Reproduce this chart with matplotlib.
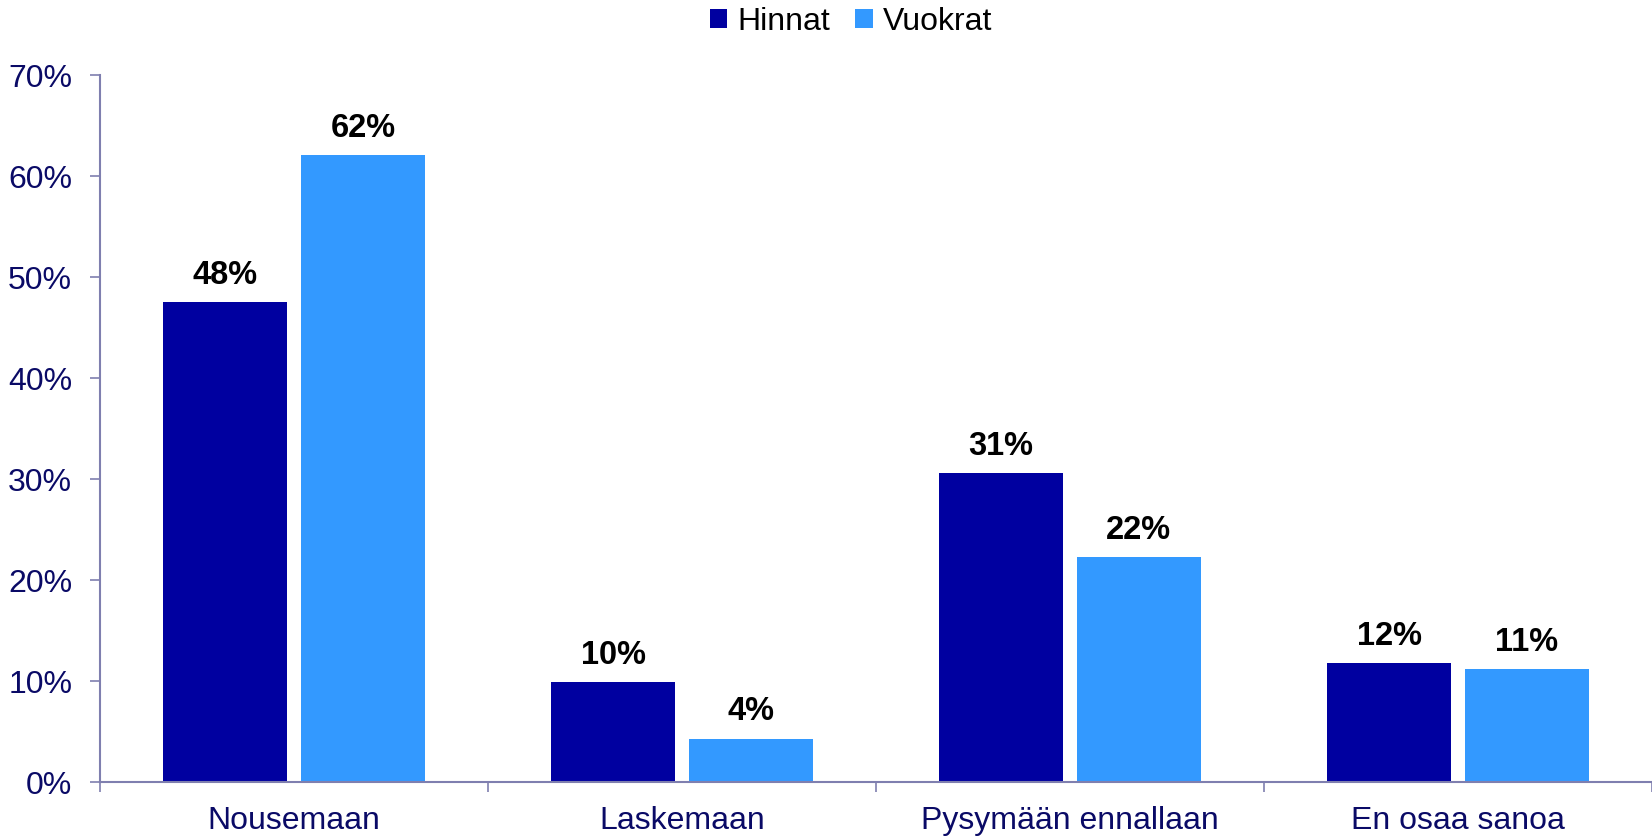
import matplotlib
matplotlib.use("Agg")
import matplotlib.pyplot as plt
import numpy as np

plt.rcParams['font.family'] = ['Liberation Sans', 'DejaVu Sans']

categories = ["Nousemaan", "Laskemaan", "Pysymään ennallaan", "En osaa sanoa"]
hinnat = [47.5, 9.9, 30.6, 11.8]
vuokrat = [62.1, 4.3, 22.3, 11.2]
hinnat_labels = ["48%", "10%", "31%", "12%"]
vuokrat_labels = ["62%", "4%", "22%", "11%"]
y_ticks = [0, 10, 20, 30, 40, 50, 60, 70]

navy = "#0A0A66"
axis_col = "#7F7FAF"

fig = plt.figure(figsize=(16.52, 8.38), dpi=100)
ax = fig.add_axes([0.0605, 0.0668, 0.9395, 0.8437])

x = np.arange(len(categories))
w = 0.32
off = 0.1775
b1 = ax.bar(x - off, hinnat, w, color="#0000A0", label="Hinnat")
b2 = ax.bar(x + off, vuokrat, w, color="#3399FF", label="Vuokrat")

for bars, labs in ((b1, hinnat_labels), (b2, vuokrat_labels)):
    for b, lab in zip(bars, labs):
        ax.annotate(lab, (b.get_x() + b.get_width() / 2, b.get_height()),
                    xytext=(0, 8), textcoords="offset points",
                    ha="center", va="bottom", fontsize=23.5, fontweight="bold", color="black")

ax.set_xlim(-0.5, 3.5)
ax.set_ylim(0, 70)
ax.set_yticks(y_ticks)
ax.set_yticklabels([f"{v}%" for v in y_ticks])
ax.set_xticks(x)
ax.set_xticklabels(categories)
ax.set_xticks(np.arange(-0.5, 3.6, 1.0), minor=True)

ax.tick_params(axis="y", colors=axis_col, labelcolor=navy, labelsize=23, length=7, width=1.2, pad=13)
ax.tick_params(axis="x", which="major", length=0, labelcolor=navy, labelsize=23, pad=17)
ax.tick_params(axis="x", which="minor", colors=axis_col, length=7, width=1.2)

for s in ("top", "right"):
    ax.spines[s].set_visible(False)
for s in ("left", "bottom"):
    ax.spines[s].set_color(axis_col)
    ax.spines[s].set_linewidth(1.5)

fig.legend(loc="center", bbox_to_anchor=(0.515, 0.974), ncol=2, frameon=False,
           fontsize=23, handlelength=0.55, handleheight=0.55, handletextpad=0.3, columnspacing=0.8)

fig.savefig("out.png", dpi=100)
